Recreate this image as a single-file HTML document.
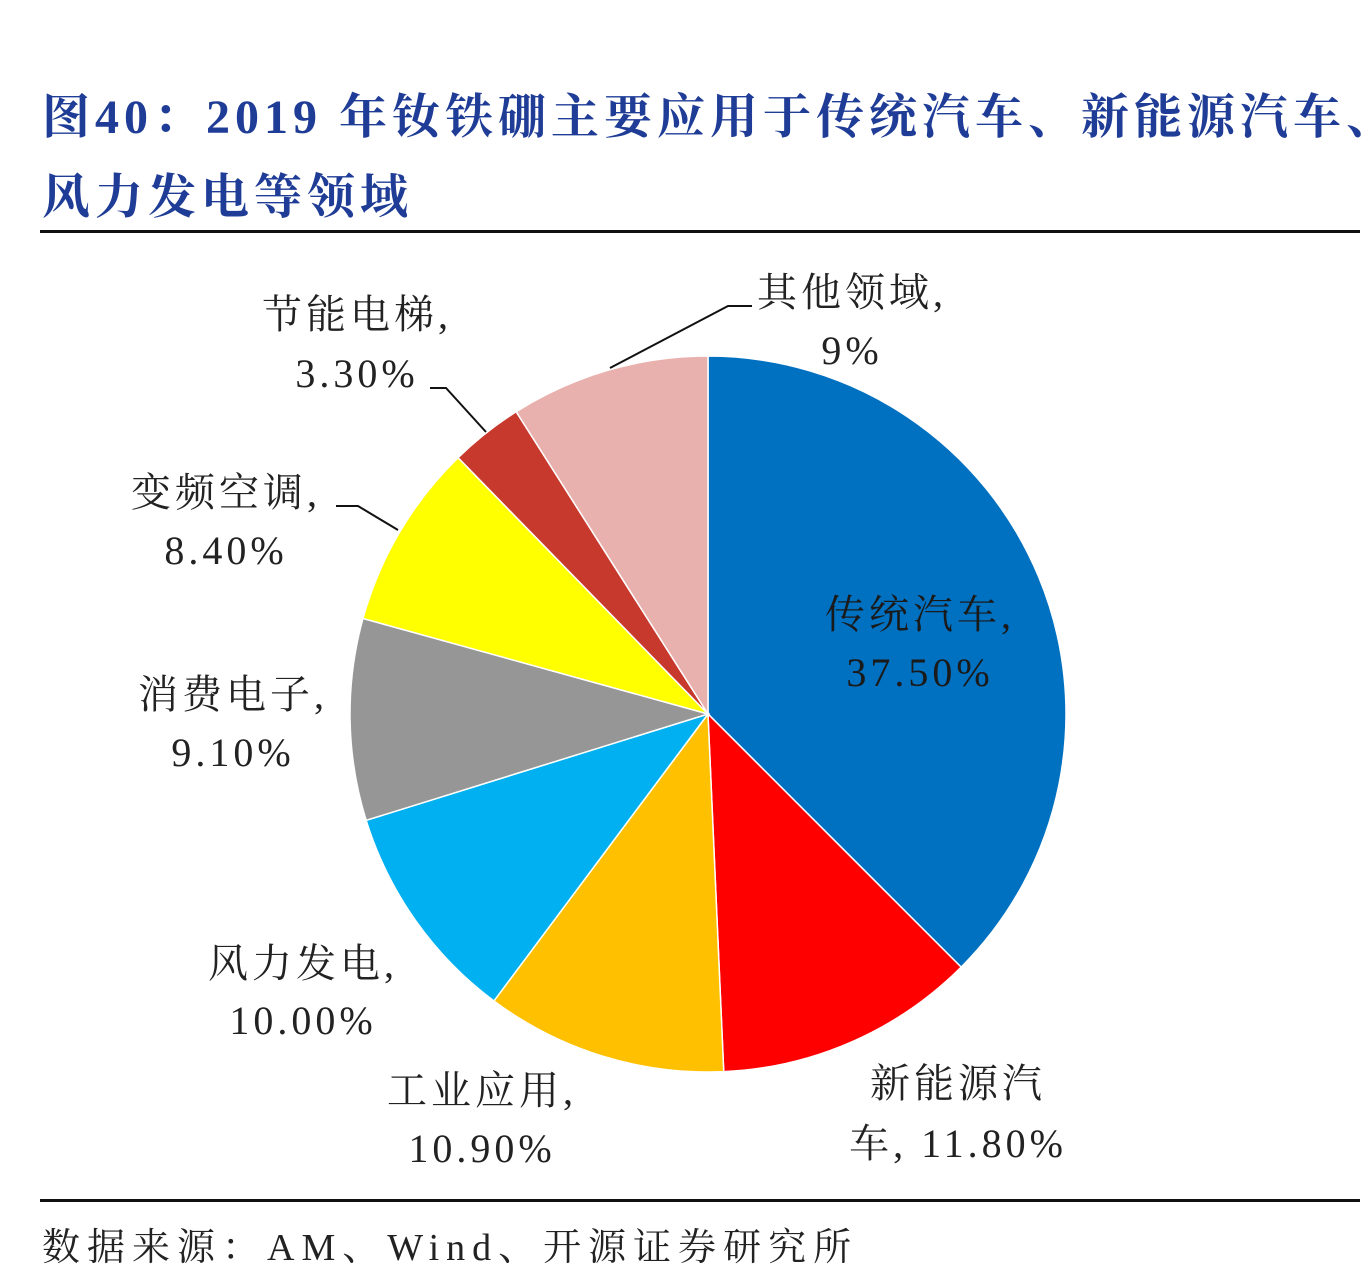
<!DOCTYPE html>
<html><head><meta charset="utf-8"><style>
body{margin:0;background:#fff;width:1372px;height:1274px;overflow:hidden;position:relative;font-family:"Liberation Serif","Noto Serif CJK SC",serif}
.title{position:absolute;left:42px;top:78px;font-size:48px;font-weight:bold;color:#1f3c96;line-height:80px;letter-spacing:5px;white-space:nowrap}
.rule{position:absolute;left:40px;width:1320px;height:3px;background:#111}
.src{position:absolute;left:42px;top:1216px;font-size:38px;color:#222;letter-spacing:7px}
</style></head><body>
<div class="title">图40：2019 年钕铁硼主要应用于传统汽车、新能源汽车、<br>风力发电等领域</div>
<div class="rule" style="top:230px"></div>
<div class="rule" style="top:1199px"></div>
<svg id="chart" width="1372" height="1274" style="position:absolute;left:0;top:0"></svg>
<div class="src">数据来源：AM、Wind、开源证券研究所</div>
<script>
const categories=["传统汽车","新能源汽车","工业应用","风力发电","消费电子","变频空调","节能电梯","其他领域"];
const values=[37.5,11.8,10.9,10.0,9.1,8.4,3.3,9.0];
const valueLabels=["37.50%","11.80%","10.90%","10.00%","9.10%","8.40%","3.30%","9%"];
const colors=["#0070c0","#ff0000","#ffc000","#00b0f0","#969696","#ffff00","#c8392d","#e9b1ad"];
const cx=708,cy=714,R=358;
const svg=document.getElementById('chart');
const NS='http://www.w3.org/2000/svg';
const total=values.reduce((a,b)=>a+b,0);
function pt(a,r){return [cx+r*Math.sin(a),cy-r*Math.cos(a)];}
let a0=0;
values.forEach((v,i)=>{
  const a1=a0+v/total*2*Math.PI;
  const p0=pt(a0,R),p1=pt(a1,R);
  const p=document.createElementNS(NS,'path');
  p.setAttribute('d',`M${cx},${cy}L${p0[0]},${p0[1]}A${R},${R} 0 ${a1-a0>Math.PI?1:0} 1 ${p1[0]},${p1[1]}Z`);
  p.setAttribute('fill',colors[i]);p.setAttribute('stroke','#fff');p.setAttribute('stroke-width','1.5');
  
  
  svg.appendChild(p);
  a0=a1;
});
const lab=[
 [920,628,686,"传统汽车,","37.50%","middle"],
 [958,1097,1157,"新能源汽","车, 11.80%","middle"],
 [482,1104,1162,"工业应用,","10.90%","middle"],
 [303,977,1034,"风力发电,","10.00%","middle"],
 [233,708,766,"消费电子,","9.10%","middle"],
 [226,506,564,"变频空调,","8.40%","middle"],
 [357,328,387,"节能电梯,","3.30%","middle"],
 [852,306,364,"其他领域,","9%","middle"]
];
lab.forEach((l,i)=>{
  [l[3],l[4]].forEach((t,k)=>{
    const e=document.createElementNS(NS,'text');
    e.setAttribute('x',l[0]);e.setAttribute('y',k?l[2]:l[1]);
    e.setAttribute('text-anchor',l[5]);e.setAttribute('font-size','40');
    e.setAttribute('fill',i==0?'#1a1a1a':'#222');
    e.setAttribute('letter-spacing','4');
    e.textContent=t;
    
    
    svg.appendChild(e);
  });
});
const leaders=[[[336,506],[358,506],[398,530]],[[430,388],[446,388],[486,432]],[[752,306],[728,306],[610,368]]];
leaders.forEach((ln,i)=>{
  const pl=document.createElementNS(NS,'polyline');
  pl.setAttribute('points',ln.map(p=>p.join(',')).join(' '));
  pl.setAttribute('fill','none');pl.setAttribute('stroke','#111');pl.setAttribute('stroke-width','2');
  
  
  svg.appendChild(pl);
});
</script>
</body></html>
